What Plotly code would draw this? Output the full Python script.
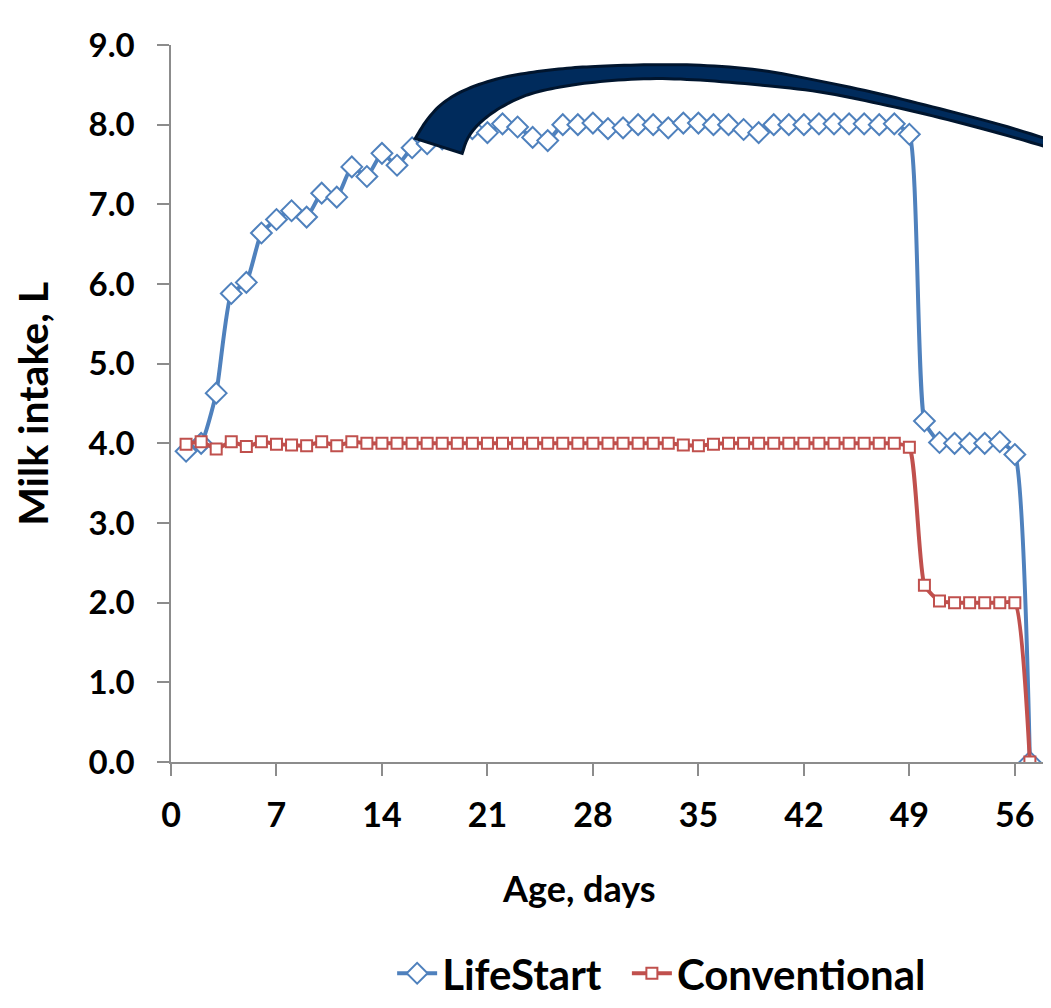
import plotly.graph_objects as go

days = list(range(1, 58))

lifestart = [3.90, 4.00, 4.63, 5.88, 6.02, 6.64, 6.81, 6.92, 6.84, 7.14,
             7.09, 7.47, 7.35, 7.64, 7.49, 7.71, 7.76, 7.82, 7.88, 7.95,
             7.90, 8.01, 7.97, 7.84, 7.80, 8.00, 8.00, 8.02, 7.95, 7.96,
             8.00, 8.00, 7.96, 8.02, 8.02, 8.00, 8.00, 7.94, 7.90, 8.00,
             8.00, 8.00, 8.01, 8.01, 8.01, 8.01, 8.00, 8.01, 7.88, 4.28,
             4.01, 4.00, 4.00, 4.00, 4.02, 3.86, 0.00]

conventional = [3.99, 4.02, 3.93, 4.02, 3.96, 4.02, 3.99, 3.98, 3.97, 4.02,
                3.97, 4.02, 4.00, 4.00, 4.00, 4.00, 4.00, 4.00, 4.00, 4.00,
                4.00, 4.00, 4.00, 4.00, 4.00, 4.00, 4.00, 4.00, 4.00, 4.00,
                4.00, 4.00, 4.00, 3.98, 3.97, 3.99, 4.00, 4.00, 4.00, 4.00,
                4.00, 4.00, 4.00, 4.00, 4.00, 4.00, 4.00, 4.00, 3.95, 2.22,
                2.02, 2.00, 2.00, 2.00, 2.00, 2.00, 0.00]

x_ticks = [0, 7, 14, 21, 28, 35, 42, 49, 56]
y_ticks = [0, 1, 2, 3, 4, 5, 6, 7, 8, 9]

FONT = "Lato"
OFF = 8  # page body margin
W, H = 1043, 1000
L, R, T, B = 162.7, 0, 36.5, 238.7
XR = [0, 58.4]
YR = [0, 9]
PW = W - L - R
PH = H - T - B
AXC = "#8c8c8c"


def px2data(px, py):
    # page pixel -> data coordinates
    x = XR[0] + (px - OFF - L) / PW * (XR[1] - XR[0])
    y = YR[0] + (H - B - (py - OFF)) / PH * (YR[1] - YR[0])
    return x, y


def catmull(pts, n=8):
    out = []
    P = [pts[0]] + pts + [pts[-1]]
    for i in range(1, len(P) - 2):
        p0, p1, p2, p3 = P[i - 1], P[i], P[i + 1], P[i + 2]
        for k in range(n):
            t = k / n
            t2, t3 = t * t, t * t * t
            out.append(tuple(
                0.5 * (2 * p1[j] + (-p0[j] + p2[j]) * t
                       + (2 * p0[j] - 5 * p1[j] + 4 * p2[j] - p3[j]) * t2
                       + (-p0[j] + 3 * p1[j] - 3 * p2[j] + p3[j]) * t3)
                for j in range(2)))
    out.append(pts[-1])
    return out


fig = go.Figure()
fig.add_trace(go.Scatter(
    x=days, y=lifestart, name="LifeStart\u00a0\u00a0", mode="lines+markers",
    line=dict(color="#4f81bd", width=4, shape="spline", smoothing=0.5),
    marker=dict(symbol="diamond", size=16, color="white",
                line=dict(color="#4f81bd", width=2)),
))
fig.add_trace(go.Scatter(
    x=days, y=conventional, name="Conventional", mode="lines+markers",
    line=dict(color="#c0504d", width=4, shape="spline", smoothing=0.5),
    marker=dict(symbol="square", size=11, color="white",
                line=dict(color="#c0504d", width=2)),
))

# decorative curved arrow band (page-pixel outline converted to data coords)
outer = [(415, 139), (427, 120), (443, 103), (467, 89), (500, 78), (533, 72),
         (567, 68), (600, 66), (650, 64.5), (700, 65), (760, 70), (820, 81),
         (880, 94), (940, 109), (1000, 125), (1055, 142)]
inner = [(1055, 150), (1000, 134), (940, 118), (880, 104), (820, 92),
         (760, 85), (700, 80), (650, 78.5), (600, 81.5), (560, 87), (527, 95),
         (500, 108), (480, 123), (468, 138), (462, 154)]
poly = catmull(outer) + catmull(inner)
pts = [px2data(*p) for p in poly]
path = "M " + " L ".join(f"{x:.4f},{y:.4f}" for x, y in pts) + " Z"
fig.add_shape(type="path", path=path, xref="x", yref="y",
              fillcolor="#002b5c", line=dict(color="#00152e", width=3),
              layer="above")
# x-axis line extends left past the y-axis by the tick length
fig.add_shape(type="line", xref="paper", yref="paper",
              x0=-12 / PW, x1=0, y0=0, y1=0,
              line=dict(color=AXC, width=1.5))

axis_common = dict(
    showgrid=False, zeroline=False, showline=True, linecolor=AXC,
    linewidth=1.5, ticks="outside", tickcolor=AXC, ticklen=12,
    tickwidth=1.5,
)

fig.update_layout(
    width=W, height=H,
    margin=dict(l=L, r=R, t=T, b=B, pad=0),
    plot_bgcolor="white", paper_bgcolor="white",
    xaxis=dict(range=XR, tickvals=x_ticks, ticktext=[str(v) for v in x_ticks],
               ticklabelstandoff=10,
               tickfont=dict(family=FONT, size=34, color="black",
                             weight="bold"),
               **axis_common),
    yaxis=dict(range=YR, tickvals=y_ticks,
               ticktext=[f"{v:.1f}" for v in y_ticks],
               ticklabelstandoff=16,
               tickfont=dict(family=FONT, size=33, color="black",
                             weight="bold"),
               **axis_common),
    showlegend=True,
    legend=dict(orientation="h", x=(661.5 - OFF - L) / PW, xanchor="center",
                y=(H - B - (983 - OFF)) / PH, yanchor="middle",
                font=dict(family=FONT, size=42, color="black", weight="bold"),
                itemwidth=40, bgcolor="rgba(0,0,0,0)"),
    annotations=[
        dict(text="Age, days", xref="paper", yref="paper",
             x=(579 - OFF - L) / PW, y=(H - B - (897 - OFF)) / PH,
             showarrow=False, xanchor="center", yanchor="middle",
             font=dict(family=FONT, size=36, color="black", weight="bold")),
        dict(text="Milk intake, L", xref="paper", yref="paper",
             x=(32 - OFF - L) / PW, y=0.5, textangle=-90,
             showarrow=False, xanchor="center", yanchor="middle",
             font=dict(family=FONT, size=41, color="black", weight="bold")),
    ],
)

fig.write_html("out.html")
